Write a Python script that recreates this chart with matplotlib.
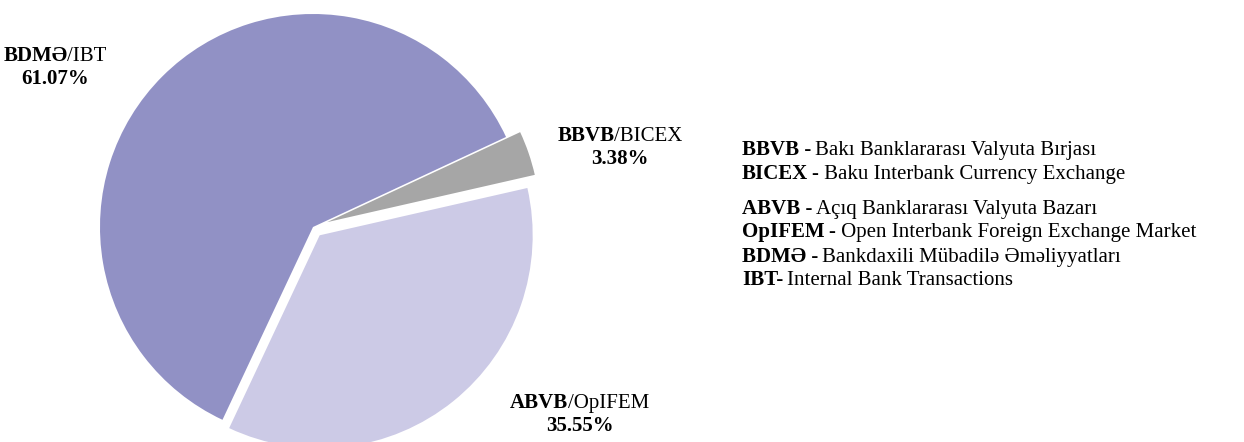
import matplotlib.pyplot as plt

plt.rcParams['font.family'] = ['Liberation Serif', 'DejaVu Serif']

# segments of the interbank currency market
codes_az = ['BDMƏ', 'ABVB', 'BBVB']
codes_en = ['IBT', 'OpIFEM', 'BICEX']
shares = [61.07, 35.55, 3.38]
colors = ['#9191c5', '#cccae6', '#a6a6a6']
explode = [0, 0.05, 0.07]

legend_lines = [
    ('BBVB -', 'Bakı Banklararası Valyuta Bırjası'),
    ('BICEX', '- Baku Interbank Currency Exchange'),
    ('ABVB -', 'Açıq Banklararası Valyuta Bazarı'),
    ('OpIFEM', '- Open Interbank Foreign Exchange Market'),
    ('BDMƏ -', 'Bankdaxili Mübadilə Əməliyyatları'),
    ('IBT-', 'Internal Bank Transactions'),
]

W, H = 1244, 442
fig = plt.figure(figsize=(W / 100, H / 100), dpi=100)
ax = fig.add_axes([0, 0, 1, 1])
ax.pie(shares, colors=colors, startangle=25, counterclock=True,
       explode=explode, radius=1, wedgeprops=dict(linewidth=0))
cx, cy, r = 313, 227, 213
ax.set_xlim(-cx / r, (W - cx) / r)
ax.set_ylim(-(H - cy) / r, cy / r)
ax.set_aspect('auto')
ax.axis('off')

rend = fig.canvas.get_renderer()


def runs(x, y, parts, size, ha='left', gap=0):
    # draw bold / normal pieces side by side, x,y in image pixels (y from top)
    items = []
    for s, w in parts:
        t = fig.text(0, 0, s, fontsize=size, fontweight=w, va='baseline')
        items.append((t, t.get_window_extent(rend).width))
    total = sum(w for _, w in items) + gap * (len(items) - 1)
    px = x - total / 2 if ha == 'center' else x
    for t, w in items:
        t.set_position((px / W, (H - y) / H))
        px += w + gap


# slice labels
label_pos = [(55, 61), (580, 408), (620, 141)]
for (x, y), az, en, s in zip(label_pos, codes_az, codes_en, shares):
    runs(x, y, [(az, 'bold'), ('/' + en, 'normal')], 15, ha='center')
    runs(x, y + 23, [('%.2f%%' % s, 'bold')], 15, ha='center')

# abbreviations legend
ys = [155, 179, 214, 237, 262, 285]
for y, (b, n) in zip(ys, legend_lines):
    runs(742, y, [(b, 'bold'), (n, 'normal')], 15, gap=4)

fig.savefig('out.png', dpi=100)
